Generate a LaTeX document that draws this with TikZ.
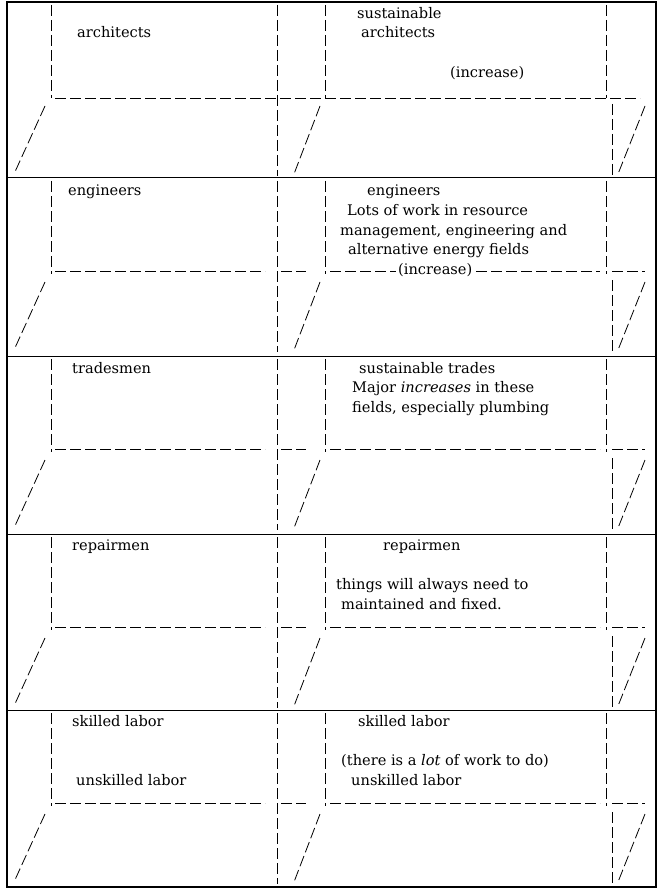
\documentclass[tikz,border=0pt]{standalone}
\usepackage{fontspec}
\setmainfont{DejaVu Serif}
\begin{document}
\begin{tikzpicture}[x=1pt, y=-1pt,
    rule/.style={dash pattern=on 11pt off 4pt, line width=0.8pt},
    label/.style={anchor=base west, inner sep=0pt, font=\fontsize{14.6}{16}\selectfont}]
    \useasboundingbox (0,0) rectangle (664,896);

    % --- Frame and row separators ---
    \draw[line width=1.2pt] (7,2) rectangle (656,887);
    \foreach \y in {178,356,534,710}
        \draw[line width=1pt] (7,\y) -- (656,\y);

    % --- Dashed skeleton of every row ---
    \foreach \t in {2,178,356,534,710} {
        \draw[rule] (51,\t+3) -- (51,\t+96);
        \draw[rule] (45,\t+104) -- (14,\t+172);
        \draw[rule] (277.5,\t+3) -- (277.5,\t+174);
        \draw[rule] (325,\t+3) -- (325,\t+96);
        \draw[rule] (320,\t+104) -- (294,\t+172);
        \draw[rule] (606,\t+3) -- (606,\t+96);
        \draw[rule] (612,\t+102) -- (612,\t+174);
        \draw[rule] (645,\t+104) -- (618,\t+172);
    }

    % --- Row lines ---
    \draw[rule] (55,98) -- (640,98);
    \foreach \t in {356,534,710} {
        \draw[rule] (55,\t+93) -- (265,\t+93);
        \draw[rule] (281,\t+93) -- (306,\t+93);
        \draw[rule] (330,\t+93) -- (600,\t+93);
        \draw[rule] (612,\t+93) -- (645,\t+93);
    }
    \draw[rule] (55,271) -- (265,271);
    \draw[rule] (281,271) -- (306,271);
    \draw[rule] (330,271) -- (396,271);
    \draw[rule] (476,271) -- (600,271);
    \draw[rule] (612,271) -- (645,271);

    % --- Row 1 ---
    \node[label] (arch) at (77,38) {architects};
    \node[label] (susarch1) at (357,19) {sustainable};
    \node[label] (susarch2) at (361,38) {architects};
    \node[label] (inc1) at (450,78) {(increase)};

    % --- Row 2 ---
    \node[label] (eng) at (68,195) {engineers};
    \node[label] (eng2) at (367,195) {engineers};
    \node[label] (lots1) at (347,215) {Lots of work in resource};
    \node[label] (lots2) at (340,235) {management, engineering and};
    \node[label] (lots3) at (348,254) {alternative energy fields};
    \node[label] (inc2) at (398,274) {(increase)};

    % --- Row 3 ---
    \node[label] (trade) at (72,373) {tradesmen};
    \node[label] (sustrade) at (359,373) {sustainable trades};
    \node[label] (major1) at (352,392) {Major \emph{increases} in these};
    \node[label] (major2) at (352,412) {fields, especially plumbing};

    % --- Row 4 ---
    \node[label] (rep) at (72,550) {repairmen};
    \node[label] (rep2) at (383,550) {repairmen};
    \node[label] (fix1) at (336,589) {things will always need to};
    \node[label] (fix2) at (341,609) {maintained and fixed.};

    % --- Row 5 ---
    \node[label] (skill) at (72,726) {skilled labor};
    \node[label] (unskill) at (76,785) {unskilled labor};
    \node[label] (skill2) at (358,726) {skilled labor};
    \node[label] (work) at (341,765) {(there is a \emph{lot} of work to do)};
    \node[label] (unskill2) at (351,785) {unskilled labor};
\end{tikzpicture}
\end{document}
